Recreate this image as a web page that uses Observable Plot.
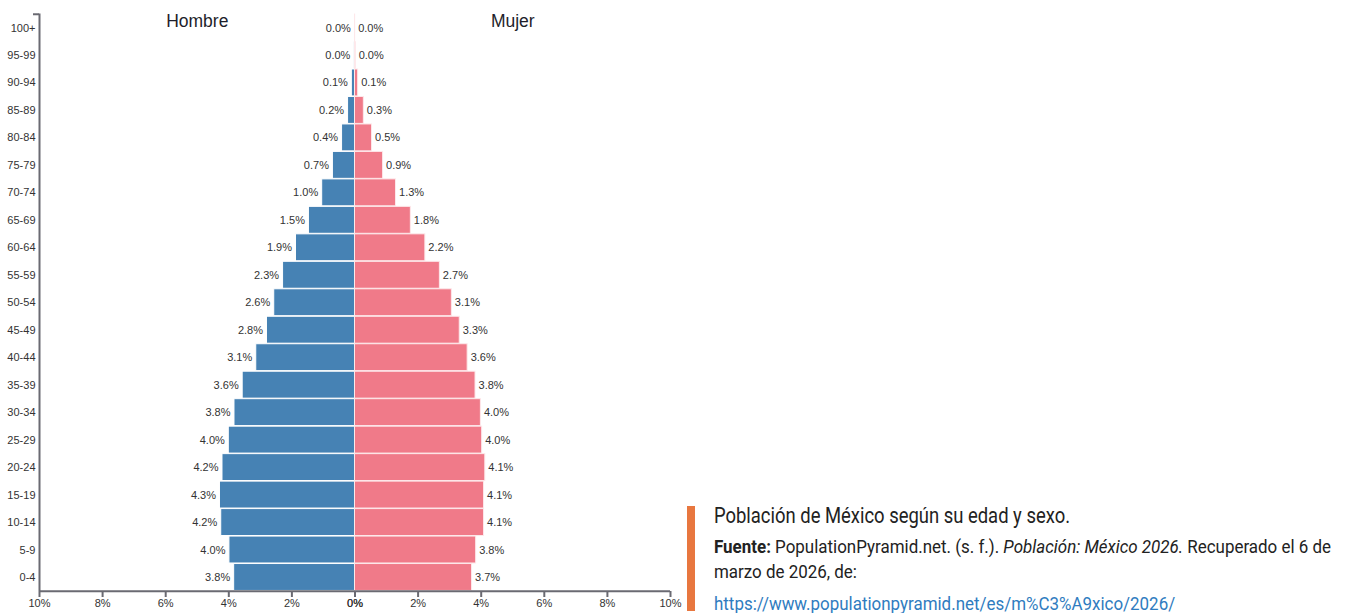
<!DOCTYPE html>
<html>
<head>
<meta charset="utf-8">
<script src="https://cdn.jsdelivr.net/npm/d3@7"></script>
<script src="https://cdn.jsdelivr.net/npm/@observablehq/plot@0.6"></script>
<style>
  html, body { margin: 0; padding: 0; background: #fff; }
  #wrap { position: relative; width: 1346px; height: 613px; overflow: hidden; }
  #chart { position: absolute; left: 0; top: 0; }
  #caption { position: absolute; left: 687px; top: 506px; width: 659px; height: 120px;
    font-family: "Roboto", "Liberation Sans", sans-serif; color: #222; }
  #bar { position: absolute; left: 0; top: 0; width: 8px; height: 105px; background: #e8773f; }
  .ln { position: absolute; left: 27px; white-space: nowrap; line-height: 1; transform-origin: 0 0; }
  #l1 { top: -1.5px; font-size: 22px; }
  #l2 { top: 32px; font-size: 18px; }
  #l3 { top: 57px; font-size: 18px; }
  #l4 { top: 89px; font-size: 18px; color: #2f7cc0; }
</style>
</head>
<body>
<div id="wrap">
  <div id="chart"></div>
  <div id="caption">
    <div id="bar"></div>
    <div class="ln" id="l1">Población de México según su edad y sexo.</div>
    <div class="ln" id="l2"><b>Fuente:</b> PopulationPyramid.net. (s. f.). <i>Población: México 2026.</i> Recuperado el 6 de</div>
    <div class="ln" id="l3">marzo de 2026, de:</div>
    <div class="ln" id="l4">https://www.populationpyramid.net/es/m%C3%A9xico/2026/</div>
  </div>
</div>
<script>
const ages = ["100+","95-99","90-94","85-89","80-84","75-79","70-74","65-69","60-64","55-59","50-54","45-49","40-44","35-39","30-34","25-29","20-24","15-19","10-14","5-9","0-4"];
const hombre = [0.004, 0.02, 0.1, 0.22, 0.41, 0.7, 1.04, 1.46, 1.87, 2.28, 2.56, 2.79, 3.13, 3.56, 3.82, 4.0, 4.2, 4.28, 4.24, 3.98, 3.83];
const mujer  = [0.004, 0.02, 0.1, 0.28, 0.54, 0.89, 1.3, 1.77, 2.23, 2.69, 3.07, 3.32, 3.57, 3.82, 3.99, 4.03, 4.13, 4.09, 4.09, 3.84, 3.71];
const xTicks = [-10, -8, -6, -4, -2, 0, 2, 4, 6, 8, 10];
const sexLabels = ["Hombre", "Mujer"];

const male = ages.map((a, i) => ({age: a, v: hombre[i]}));
const female = ages.map((a, i) => ({age: a, v: mujer[i]}));
const headers = [{t: sexLabels[0], x: -5}, {t: sexLabels[1], x: 5}];

const axisColor = "#6a6a72";
const step = (591 - 13.5) / ages.length;

const plot = Plot.plot({
  width: 690,
  height: 613,
  marginLeft: 39,
  marginRight: 20,
  marginTop: 13.5,
  marginBottom: 22,
  x: {domain: [-10, 10]},
  y: {domain: ages, padding: 0.02, round: false},
  style: {fontFamily: "'Liberation Sans', Arial, sans-serif", fontSize: "11px", color: "#333", background: "#fff"},
  marks: [
    Plot.barX(male, {x1: 0, x2: d => -d.v, y: "age", fill: "#4682b4", stroke: "#fff", strokeWidth: 1}),
    Plot.barX(female, {x1: 0, x2: d => d.v, y: "age", fill: "#f07a89", stroke: "#fde8ea", strokeWidth: 1}),
    Plot.text(male, {x: d => -d.v, y: "age", text: d => d.v.toFixed(1) + "%", textAnchor: "end", dx: -4, fill: "#333", fontSize: 11}),
    Plot.text(female, {x: d => d.v, y: "age", text: d => d.v.toFixed(1) + "%", textAnchor: "start", dx: 3, fill: "#333", fontSize: 11}),
    Plot.text(headers, {x: "x", y: () => ages[0], text: "t", dy: -7, fontSize: 17.5, fill: "#1e1e2a"}),
    Plot.ruleX([-10], {stroke: axisColor, strokeWidth: 2}),
    Plot.ruleY([ages[0]], {y: d => d, x1: -10, x2: -10, insetLeft: -6, dy: -step / 2, stroke: axisColor, strokeWidth: 2}),
    Plot.ruleY([ages[ages.length - 1]], {y: d => d, x1: -10, x2: 10, dy: step / 2, stroke: axisColor, strokeWidth: 2}),
    Plot.axisX({ticks: xTicks, tickFormat: d => Math.abs(d) + "%", tickSize: 6, tickPadding: 2, stroke: axisColor, strokeWidth: 2, fill: "#333", label: null}),
    Plot.axisX({ticks: [0], tickFormat: d => Math.abs(d) + "%", tickSize: 6, tickPadding: 2, stroke: axisColor, strokeWidth: 2, fill: "#333", label: null}),
    Plot.axisY({tickSize: 0, tickPadding: 4, fill: "#333", label: null})
  ]
});
document.getElementById("chart").appendChild(plot);

// condense caption lines to the reference's narrow typeface widths
const targetWidths = {l1: 356, l2: 617, l3: 142, l4: 456};
const l2nat = document.getElementById("l2").getBoundingClientRect().width;
const s2 = targetWidths.l2 / l2nat;
for (const id of ["l1", "l2", "l3", "l4"]) {
  const el = document.getElementById(id);
  const nat = el.getBoundingClientRect().width;
  const s = id === "l1" ? targetWidths.l1 / nat : s2;
  el.style.transform = `scaleX(${s})`;
}
</script>
</body>
</html>
